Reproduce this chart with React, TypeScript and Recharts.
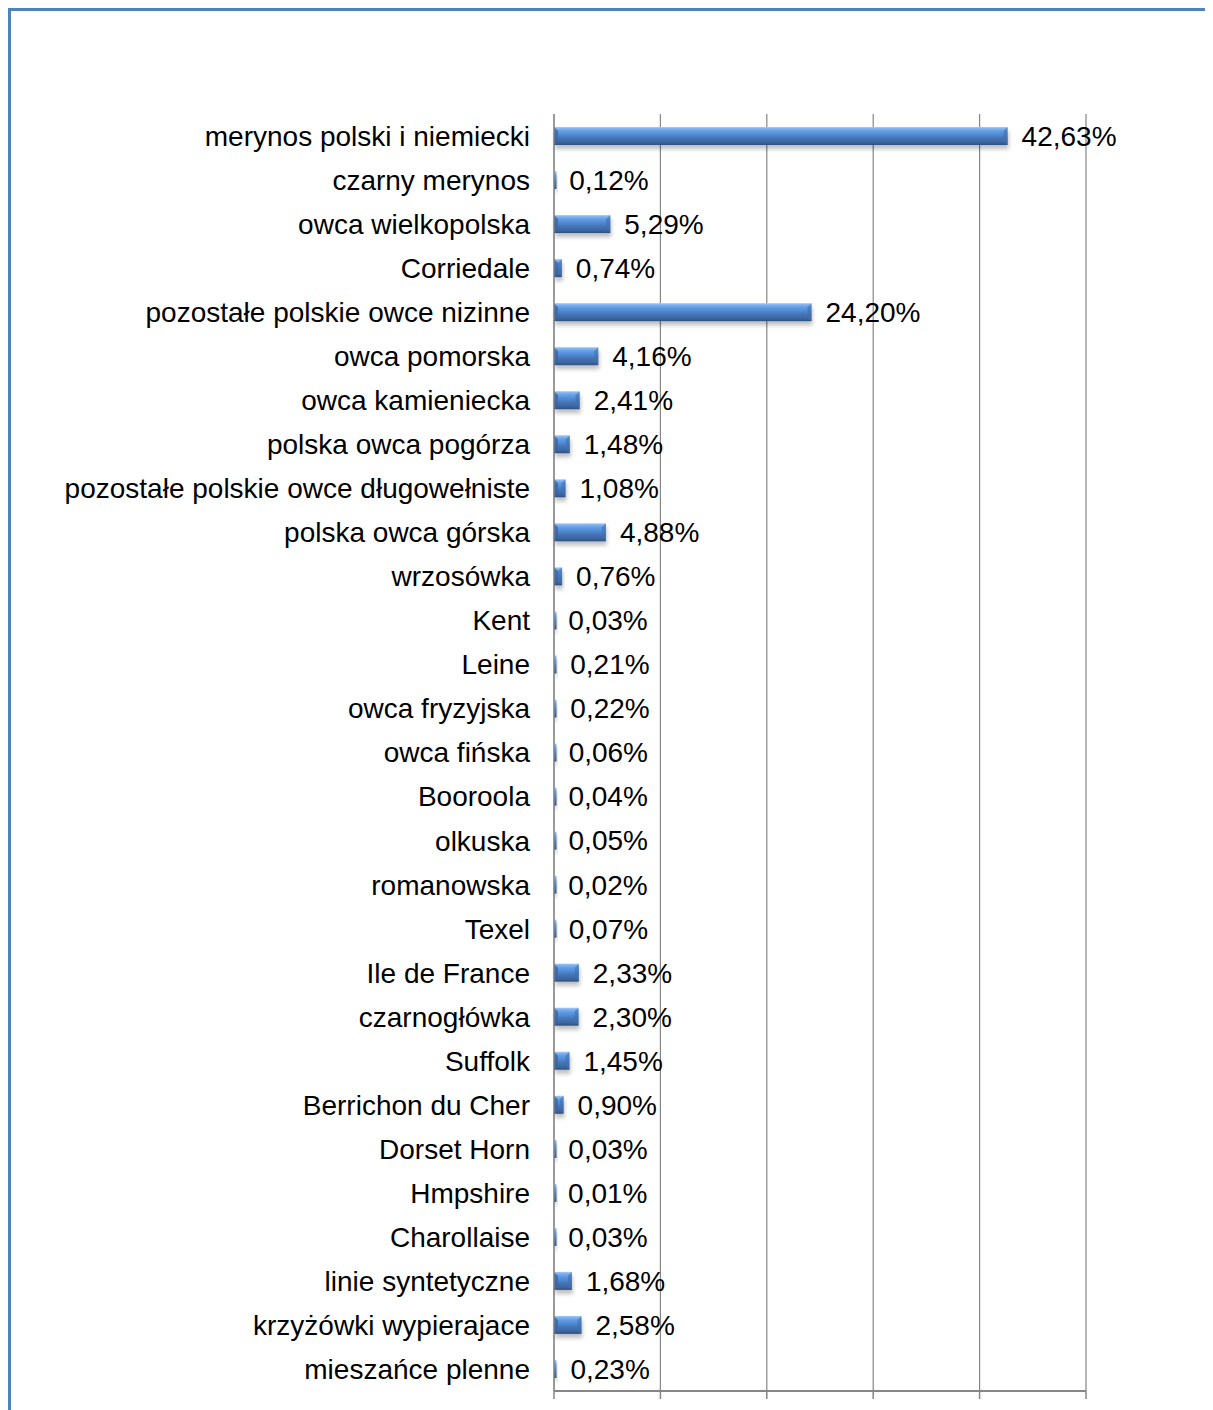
import React from 'react';
import { BarChart, Bar, XAxis, YAxis, CartesianGrid, LabelList } from 'recharts';

const categories = [
  'merynos polski i niemiecki',
  'czarny merynos',
  'owca wielkopolska',
  'Corriedale',
  'pozostałe polskie owce nizinne',
  'owca pomorska',
  'owca kamieniecka',
  'polska owca pogórza',
  'pozostałe polskie owce długowełniste',
  'polska owca górska',
  'wrzosówka',
  'Kent',
  'Leine',
  'owca fryzyjska',
  'owca fińska',
  'Booroola',
  'olkuska',
  'romanowska',
  'Texel',
  'Ile de France',
  'czarnogłówka',
  'Suffolk',
  'Berrichon du Cher',
  'Dorset Horn',
  'Hmpshire',
  'Charollaise',
  'linie syntetyczne',
  'krzyżówki wypierajace',
  'mieszańce plenne',
];

const shares = [
  42.63, 0.12, 5.29, 0.74, 24.2, 4.16, 2.41, 1.48, 1.08, 4.88, 0.76, 0.03, 0.21, 0.22, 0.06,
  0.04, 0.05, 0.02, 0.07, 2.33, 2.3, 1.45, 0.9, 0.03, 0.01, 0.03, 1.68, 2.58, 0.23,
];

const xTicks = [0, 10, 20, 30, 40, 50];

const data = categories.map((name, i) => ({ name, value: shares[i] }));

const FONT = '"Liberation Sans", Arial, sans-serif';
const GRID = '#868686';

const fmt = (v: any) => Number(v).toFixed(2).replace('.', ',') + '%';

const BarShape = (props: any) => {
  const { x, y, height, index } = props;
  const w = Math.max(props.width, 2.5);
  const gid = `bg${index}`;
  const sid = `sh${index}`;
  const bev = Math.min(4, w / 2);
  return (
    <g>
      <defs>
        <linearGradient id={gid} x1="0" y1="0" x2="0" y2="1">
          <stop offset="0" stopColor="#a8cbf3" />
          <stop offset="0.1" stopColor="#7fb0ef" />
          <stop offset="0.25" stopColor="#5e9be4" />
          <stop offset="0.45" stopColor="#4f87d0" />
          <stop offset="0.6" stopColor="#4676b8" />
          <stop offset="0.85" stopColor="#3c659f" />
          <stop offset="1" stopColor="#2f5080" />
        </linearGradient>
        <filter id={sid} x="-10%" y="-50%" width="130%" height="250%">
          <feGaussianBlur stdDeviation="2" />
        </filter>
      </defs>
      <rect x={x + 1} y={y + 4} width={w} height={height} fill="#000" opacity={0.25} filter={`url(#${sid})`} />
      <rect x={x} y={y} width={w} height={height} fill={`url(#${gid})`} />
      {w > 6 && (
        <polygon
          points={`${x},${y} ${x + bev},${y + bev} ${x + bev},${y + height - bev} ${x},${y + height}`}
          fill="#3a66a3"
          opacity={0.8}
        />
      )}
      {w > 6 && (
        <polygon
          points={`${x + w},${y} ${x + w - bev},${y + bev} ${x + w - bev},${y + height - bev} ${x + w},${y + height}`}
          fill="#3f6fae"
          opacity={0.6}
        />
      )}
    </g>
  );
};

export default function App() {
  return (
    <div style={{ position: 'relative', width: 1205, height: 1402 }}>
      <div style={{ position: 'absolute', left: 0, top: 0 }}>
        <BarChart
          width={1205}
          height={1402}
          data={data}
          layout="vertical"
          margin={{ top: 106, right: 127, bottom: 3, left: 0 }}
          barSize={18}
        >
          <CartesianGrid horizontal={false} stroke={GRID} strokeWidth={1.2} />
          <XAxis
            type="number"
            domain={[0, 50]}
            ticks={xTicks}
            height={16}
            axisLine={{ stroke: GRID, strokeWidth: 2 }}
            tickLine={{ stroke: GRID, strokeWidth: 1.5 }}
            tickSize={8}
            tickFormatter={() => ''}
          />
          <YAxis
            type="category"
            dataKey="name"
            width={546}
            interval={0}
            axisLine={{ stroke: GRID, strokeWidth: 1.2 }}
            tickLine={false}
            tickSize={0}
            tickMargin={24}
            tick={{ fill: '#000', fontSize: 28, fontFamily: FONT }}
          />
          <Bar dataKey="value" isAnimationActive={false} shape={<BarShape />}>
            <LabelList
              dataKey="value"
              position="right"
              offset={14}
              formatter={fmt}
              style={{ fill: '#000', fontSize: 28, fontFamily: FONT }}
            />
          </Bar>
        </BarChart>
      </div>
      <div
        style={{
          position: 'absolute',
          left: 0,
          top: 0,
          width: 1205,
          height: 1402,
          borderTop: '3px solid #4f81bd',
          borderLeft: '3px solid #4f81bd',
          boxSizing: 'border-box',
          zIndex: 5,
          pointerEvents: 'none',
        }}
      />
    </div>
  );
}
